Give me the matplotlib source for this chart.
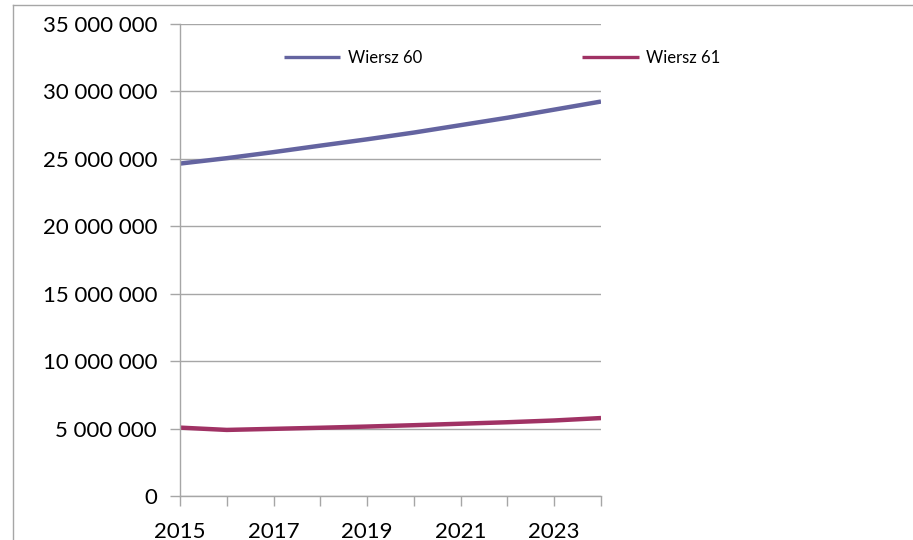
import matplotlib.pyplot as plt
from matplotlib.lines import Line2D

years = [2015, 2016, 2017, 2018, 2019, 2020, 2021, 2022, 2023, 2024]
wiersz_60 = [24650000, 25050000, 25500000, 25980000, 26450000, 26950000,
             27500000, 28050000, 28650000, 29250000]
wiersz_61 = [5070000, 4900000, 4980000, 5060000, 5150000, 5250000,
             5360000, 5470000, 5600000, 5780000]
y_ticks = [0, 5000000, 10000000, 15000000, 20000000, 25000000, 30000000, 35000000]
x_labels = [2015, 2017, 2019, 2021, 2023]

plt.rcParams['font.family'] = ['Lato', 'DejaVu Sans']

fig = plt.figure(figsize=(9.13, 5.4), dpi=100)
ax = fig.add_axes([180 / 913, 1 - 496 / 540, 421 / 913, 472 / 540])

grey = '#a6a6a6'
ax.plot(years, wiersz_60, color='#6464a0', lw=3.2, label='Wiersz 60', solid_capstyle='butt')
ax.plot(years, wiersz_61, color='#a03264', lw=3.2, label='Wiersz 61', solid_capstyle='butt')

ax.set_xlim(2015, 2024)
ax.set_ylim(0, 35000000)
ax.set_yticks(y_ticks)
ax.set_yticklabels([f'{v:,}'.replace(',', ' ') for v in y_ticks])
ax.set_xticks(years)
ax.set_xticklabels([str(y) if y in x_labels else '' for y in years])

ax.grid(axis='y', color=grey, lw=1)
ax.set_axisbelow(True)
for s in ['top', 'right']:
    ax.spines[s].set_visible(False)
for s in ['left', 'bottom']:
    ax.spines[s].set_color(grey)
    ax.spines[s].set_linewidth(1)
ax.tick_params(axis='y', colors=grey, length=7.5, width=1, labelsize=16,
               labelcolor='black', pad=9)
ax.tick_params(axis='x', colors=grey, length=7.5, width=1, labelsize=16,
               labelcolor='black', pad=11)

leg = ax.legend(loc='upper left', bbox_to_anchor=(0.211, 0.9765), ncol=2, frameon=False,
                fontsize=12, handlelength=3.4, columnspacing=9.6, handletextpad=0.45)
for ln in leg.get_lines():
    ln.set_linewidth(2.4)

# outer chart border
fig.add_artist(Line2D([13 / 913, 13 / 913], [0, 1 - 5 / 540], color=grey, lw=1))
fig.add_artist(Line2D([13 / 913, 1], [1 - 5 / 540, 1 - 5 / 540], color=grey, lw=1))

fig.savefig('out.png', dpi=100)
